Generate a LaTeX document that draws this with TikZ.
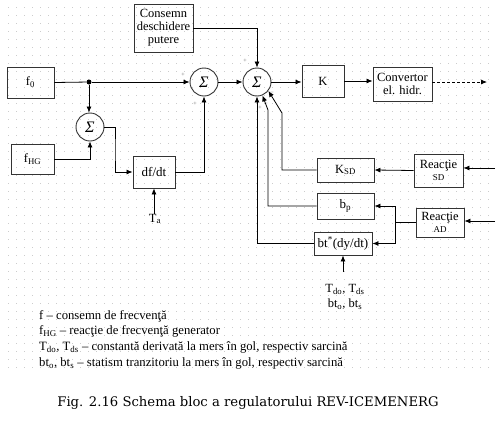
\documentclass[tikz,border=0pt]{standalone}
\usepackage{fontspec}
\setmainfont{Liberation Serif}
\newfontfamily\capfont{DejaVu Serif}
\usetikzlibrary{arrows.meta,calc}
\newcommand{\subt}[1]{\textsubscript{#1}}
\begin{document}
\begin{tikzpicture}[x=1pt,y=-1pt,
  blk/.style={draw=black!80, line width=0.9pt, rectangle, inner sep=0pt, align=center, font=\fontsize{12.5}{13}\selectfont},
  sumn/.style={draw=black!80, line width=0.9pt, circle, minimum size=28pt, inner sep=0pt, font=\fontsize{16}{16}\selectfont\itshape},
  con/.style={line width=0.8pt, -{Latex[length=6pt,width=5pt]}},
  ln/.style={line width=0.8pt},
  sgn/.style={font=\fontsize{6}{6}\selectfont, text=black!60, inner sep=0pt},
  lbl/.style={font=\fontsize{12.5}{15.5}\selectfont, inner sep=0pt, align=center}]
\useasboundingbox (0,0) rectangle (496,432);
\fill[white] (0,0) rectangle (496,432);
% dotted grid
\foreach \i in {0,...,60} {\foreach \j in {0,...,45} {\fill[black!20] (8+8*\i,7+8*\j) rectangle ++(1,1);}}

% blocks
\node[blk, minimum width=59pt, minimum height=48pt] (cons) at (163.5,28) {Consemn\\deschidere\\putere};
\node[blk, minimum width=47pt, minimum height=31pt] (f0) at (30.5,82.5) {f\subt{0}};
\node[blk, minimum width=43pt, minimum height=30pt] (fHG) at (32.5,159) {f\subt{HG}};
\node[blk, minimum width=42pt, minimum height=32pt, font=\fontsize{13}{13}\selectfont] (dfdt) at (154,172) {df/dt};
\node[blk, minimum width=42pt, minimum height=32pt] (K) at (323,81) {K};
\node[blk, minimum width=59pt, minimum height=34pt] (conv) at (402.5,84) {Convertor\\el. hidr.};
\node[blk, minimum width=57pt, minimum height=24pt] (KSD) at (345.5,170) {K\subt{SD}};
\node[blk, minimum width=49pt, minimum height=33pt] (rSD) at (438.5,170.5) {Reacţie\\[-1pt]{\fontsize{9}{9}\selectfont SD}};
\node[blk, minimum width=57pt, minimum height=26pt, font=\fontsize{13}{13}\selectfont] (bp) at (345.5,206) {b\subt{p}};
\node[blk, minimum width=48pt, minimum height=29pt] (rAD) at (440,222.5) {Reacţie\\[-1pt]{\fontsize{9}{9}\selectfont AD}};
\node[blk, minimum width=58pt, minimum height=23pt, font=\fontsize{13}{13}\selectfont] (bt) at (343,243.5) {bt\textsuperscript{*}(dy/dt)};

% summing junctions
\node[sumn] (suma) at (90,127) {Σ};
\node[sumn] (sum1) at (204,82) {Σ};
\node[sumn] (sum2) at (257,82) {Σ};

% signs
\node[sgn] at (183,75) {+};
\node[sgn] at (195,104) {+};
\node[sgn] at (245,61) {+};
\node[sgn] at (260,108) {+};
\node[sgn] at (266,104) {−};
\node[sgn] at (272,93) {−};

% connectors
\node[circle, fill=black, inner sep=0pt, minimum size=5pt] (dot) at (89,82) {};
\draw[ln] (f0.east) -- (dot);
\draw[con] (dot) -- (sum1.west);
\draw[con] (dot) -- (suma.north -| dot);
\draw[con] (fHG.east) -| (suma.south);
\coordinate (jA) at (115,150);
\draw[con] (suma.east) -| (jA) |- (dfdt.west);
\draw[con] (dfdt.east) -| (sum1.south);
\node[lbl] (Ta) at (155,219) {T\subt{a}};
\draw[con] (Ta.north -| dfdt.south) -- (dfdt.south);
\draw[con] (cons.east) -| (sum2.north);
\draw[con] (sum1.east) -- (sum2.west);
\draw[con] (sum2.east) -- (sum2.east -| K.west);
\draw[con] (K.east) -- (K.east -| conv.west);
\coordinate (out) at (487,82);
\draw[con, dash pattern=on 3pt off 2pt] (conv.east |- out) -- (out);
\coordinate (inSD) at (495,168);
\draw[con] (inSD) -- (inSD -| rSD.east);
\draw[con] (rSD.west) -- (KSD.east);
\coordinate (inAD) at (495,221);
\draw[con] (inAD) -- (inAD -| rAD.east);
\coordinate (jAD) at (395,222.5);
\draw[ln] (rAD.west) -- (jAD);
\draw[con] (jAD) |- (bp.east);
\draw[con] (jAD) |- (bt.east);
\coordinate (c1) at (282,113);
\draw[con] (KSD.west) -| (c1) -- (sum2.-38);
\coordinate (c2) at (268,110);
\draw[con] (bp.west) -| (c2) -- (sum2.-68);
\draw[con] (bt.west) -| (sum2.south);
\coordinate (tdin) at (343,272);
\draw[con] (tdin) -- (bt.south);
\node[lbl] (Td) at (345,297) {T\subt{do}, T\subt{ds}\\bt\subt{o}, bt\subt{s}};

% legend
\node[anchor=north west, inner sep=0pt, align=left, font=\fontsize{12.7}{15.7}\selectfont] (leg) at (39,310)
 {f – consemn de frecvenţă\\
  f\subt{HG} – reacţie de frecvenţă generator\\
  T\subt{do}, T\subt{ds} – constantă derivată la mers în gol, respectiv sarcină\\
  bt\subt{o}, bt\subt{s} – statism tranzitoriu la mers în gol, respectiv sarcină};
\node[font=\capfont\fontsize{13.2}{15}\selectfont, inner sep=0pt] (cap) at (248,403) {Fig. 2.16 Schema bloc a regulatorului REV-ICEMENERG};
\end{tikzpicture}
\end{document}
